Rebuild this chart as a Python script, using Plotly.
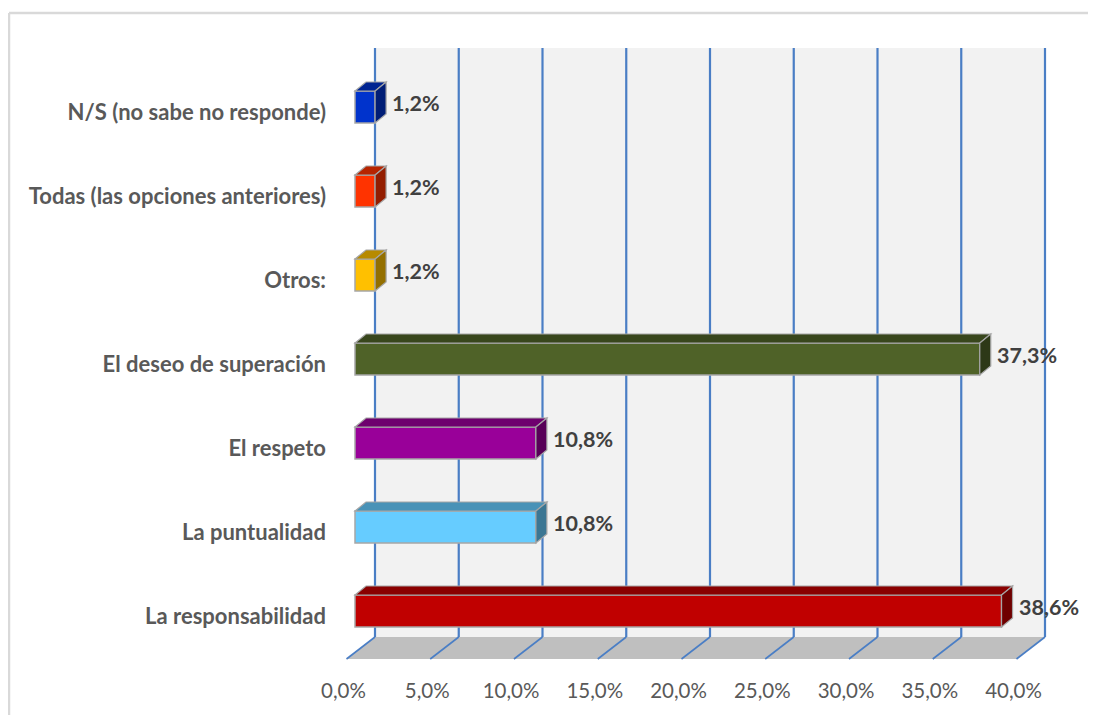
import plotly.graph_objects as go

# ---------------- data ----------------
categories = [
    "La responsabilidad",
    "La puntualidad",
    "El respeto",
    "El deseo de superación",
    "Otros:",
    "Todas (las opciones anteriores)",
    "N/S (no sabe no responde)",
]
values = [38.6, 10.8, 10.8, 37.3, 1.2, 1.2, 1.2]
bar_colors = ["#C00000", "#66CCFF", "#990099", "#4F6228", "#FFC000", "#FF3300", "#0033CC"]
x_ticks = [0, 5, 10, 15, 20, 25, 30, 35, 40]


def fmt_pct(v):
    return f"{v:.1f}".replace(".", ",") + "%"


# ---------------- geometry (pixel -> data units) ----------------
PAGE_OFF = 8           # default body margin of the html page
FIG_W, FIG_H = 1096 - PAGE_OFF, 715 - PAGE_OFF
SX = 16.75   # px per percent
SY = 84.0    # px per category step
W_PLOT, H_PLOT = 760, 636
M_L, M_T = 330 - PAGE_OFF, 40 - PAGE_OFF
M_R = FIG_W - M_L - W_PLOT
M_B = FIG_H - M_T - H_PLOT
x_lo = -25 / SX
x_hi = x_lo + W_PLOT / SX
y_hi = (611 - 40) / SY
y_lo = y_hi - H_PLOT / SY

WALL_DX = 20 / SX          # back wall offset
WALL_BOTTOM = -26 / SY
WALL_TOP = 563 / SY
FLOOR_FRONT = -48 / SY
FLOOR_DX = -28.5 / SX      # diag from back wall to floor front
LABEL_DX = -11.5 / SX      # tick labels relative to bar scale
BAR_H = 32 / SY
DEPTH_DX = 11 / SX
DEPTH_DY = 9 / SY
GRID_COLOR = "#4A7EC5"
OUTLINE = "#A6A6A6"


def shade(hexcol, f):
    h = hexcol.lstrip("#")
    r, g, b = (int(h[i:i + 2], 16) for i in (0, 2, 4))
    return "#%02X%02X%02X" % (int(r * f), int(g * f), int(b * f))


shapes = []
# back wall
shapes.append(dict(type="rect", xref="x", yref="y", layer="below",
                   x0=WALL_DX, x1=x_ticks[-1] + WALL_DX, y0=WALL_BOTTOM, y1=WALL_TOP,
                   fillcolor="#F2F2F2", line=dict(width=0)))
# floor
fx0, fx1 = x_ticks[0], x_ticks[-1]
floor_path = (f"M {fx0 + WALL_DX},{WALL_BOTTOM} L {fx1 + WALL_DX},{WALL_BOTTOM} "
              f"L {fx1 + WALL_DX + FLOOR_DX},{FLOOR_FRONT} L {fx0 + WALL_DX + FLOOR_DX},{FLOOR_FRONT} Z")
shapes.append(dict(type="path", xref="x", yref="y", layer="below", path=floor_path,
                   fillcolor="#BFBFBF", line=dict(width=0)))
# gridlines on back wall + floor ticks
for t in x_ticks:
    shapes.append(dict(type="line", xref="x", yref="y", layer="below",
                       x0=t + WALL_DX, x1=t + WALL_DX, y0=WALL_BOTTOM, y1=WALL_TOP,
                       line=dict(color=GRID_COLOR, width=2.2)))
    shapes.append(dict(type="line", xref="x", yref="y", layer="below",
                       x0=t + WALL_DX, x1=t + WALL_DX + FLOOR_DX, y0=WALL_BOTTOM, y1=FLOOR_FRONT,
                       line=dict(color=GRID_COLOR, width=1.6)))

# 3D faces of bars
for i, (v, c) in enumerate(zip(values, bar_colors)):
    y0 = i - BAR_H / 2
    y1 = i + BAR_H / 2
    top = (f"M 0,{y1} L {DEPTH_DX},{y1 + DEPTH_DY} L {v + DEPTH_DX},{y1 + DEPTH_DY} L {v},{y1} Z")
    side = (f"M {v},{y0} L {v},{y1} L {v + DEPTH_DX},{y1 + DEPTH_DY} L {v + DEPTH_DX},{y0 + DEPTH_DY} Z")
    shapes.append(dict(type="path", xref="x", yref="y", layer="above", path=top,
                       fillcolor=shade(c, 0.72), line=dict(color=OUTLINE, width=1.2)))
    shapes.append(dict(type="path", xref="x", yref="y", layer="above", path=side,
                       fillcolor=shade(c, 0.58), line=dict(color=OUTLINE, width=1.2)))


# chart border (top and left visible)
def px_to_paper_x(px):
    return (px - PAGE_OFF - M_L) / W_PLOT


def px_to_paper_y(py):
    return (M_T + H_PLOT - (py - PAGE_OFF)) / H_PLOT


shapes.append(dict(type="line", xref="paper", yref="paper",
                   x0=px_to_paper_x(9), x1=px_to_paper_x(1110),
                   y0=px_to_paper_y(13), y1=px_to_paper_y(13),
                   line=dict(color="#D9D9D9", width=2.5)))
shapes.append(dict(type="line", xref="paper", yref="paper",
                   x0=px_to_paper_x(9), x1=px_to_paper_x(9),
                   y0=px_to_paper_y(13), y1=px_to_paper_y(730),
                   line=dict(color="#D9D9D9", width=2.5)))

fig = go.Figure()
fig.add_trace(go.Bar(
    x=values, y=list(range(len(categories))), orientation="h", base=0,
    width=BAR_H, marker=dict(color=bar_colors, line=dict(color=OUTLINE, width=1.5)),
    hoverinfo="skip", showlegend=False,
))

annotations = []
for i, v in enumerate(values):
    annotations.append(dict(x=v + 15 / SX, y=i + 0.05, xref="x", yref="y",
                            text=fmt_pct(v), showarrow=False, xanchor="left", yanchor="middle",
                            font=dict(family="Lato", size=21.5, color="#404040", weight="bold")))

fig.update_layout(
    width=FIG_W, height=FIG_H,
    margin=dict(l=M_L, r=M_R, t=M_T, b=M_B),
    paper_bgcolor="white", plot_bgcolor="white",
    shapes=shapes, annotations=annotations,
    xaxis=dict(range=[x_lo, x_hi], showgrid=False, zeroline=False, showline=False,
               tickvals=[t + LABEL_DX for t in x_ticks], ticktext=[fmt_pct(t) for t in x_ticks],
               ticks="", tickfont=dict(family="Lato", size=20.5, color="#595959")),
    yaxis=dict(range=[y_lo, y_hi], showgrid=False, zeroline=False, showline=False,
               tickvals=[i - 0.06 for i in range(len(categories))], ticktext=categories,
               ticks="", ticklabelstandoff=3,
               tickfont=dict(family="Lato", size=22, color="#595959", weight="bold")),
)

fig.write_html("out.html")
